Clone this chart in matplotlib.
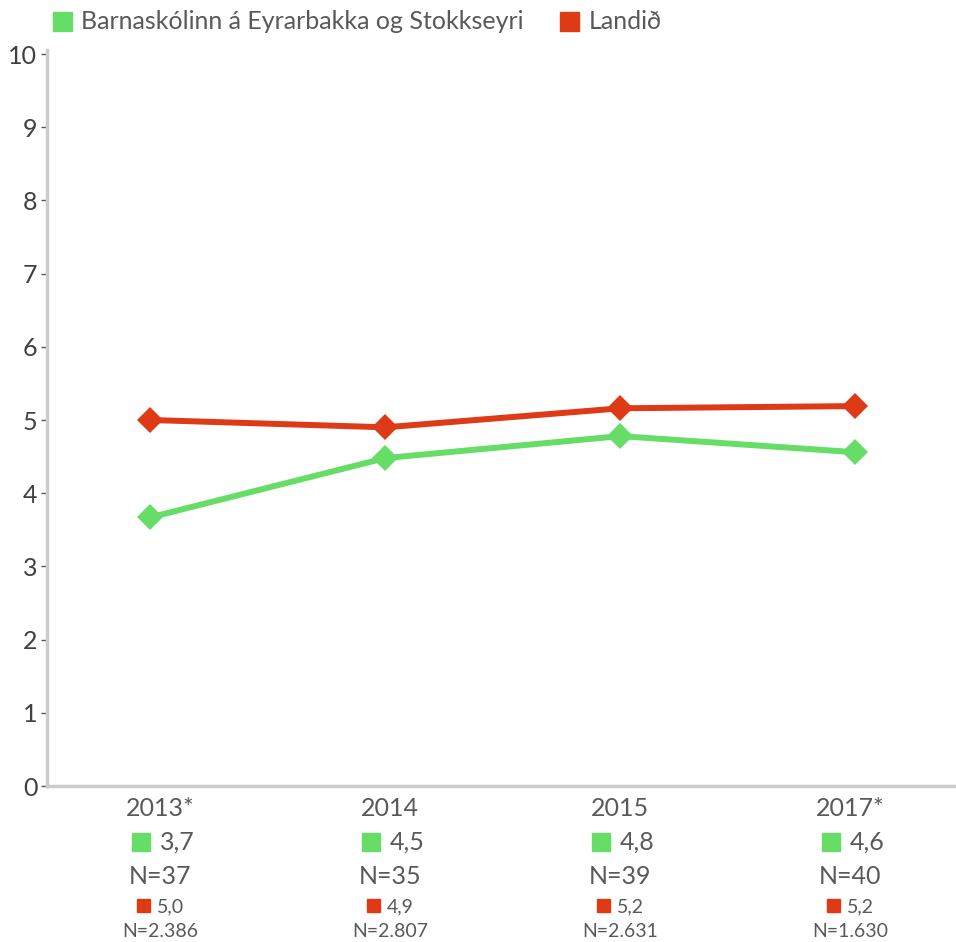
import matplotlib
matplotlib.use("Agg")
import matplotlib.pyplot as plt

years = ["2013*", "2014", "2015", "2017*"]
school = [3.67, 4.48, 4.78, 4.56]
national = [5.0, 4.9, 5.16, 5.19]
school_lbl = ["3,7", "4,5", "4,8", "4,6"]
school_n = ["N=37", "N=35", "N=39", "N=40"]
national_lbl = ["5,0", "4,9", "5,2", "5,2"]
national_n = ["N=2.386", "N=2.807", "N=2.631", "N=1.630"]
series_names = ["Barnaskólinn á Eyrarbakka og Stokkseyri", "Landið"]

GREEN = "#66dd66"
RED = "#dd3a15"
TXT = "#595959"
plt.rcParams['font.family'] = ['Lato', 'DejaVu Sans']

W, H = 956, 942
fig = plt.figure(figsize=(W / 100, H / 100), dpi=100)
ax = fig.add_axes([47 / W, 1 - 786 / H, (954 - 47) / W, (786 - 54) / H])

x = list(range(len(years)))
ax.plot(x, school, color=GREEN, lw=4.3, marker="D", ms=13, mew=0, zorder=3)
ax.plot(x, national, color=RED, lw=4.3, marker="D", ms=13, mew=0, zorder=3)

ax.set_xlim(-0.44, 3.42)
ax.set_ylim(0, 10)
ax.set_yticks(range(0, 11))
ax.set_yticklabels([str(i) for i in range(0, 11)], fontsize=18, color="#404040")
ax.tick_params(axis="y", length=4, width=1, color="#555555", pad=3, direction="out")
ax.set_xticks([])
for s in ["top", "right"]:
    ax.spines[s].set_visible(False)
ax.spines["left"].set_color("#cccccc")
ax.spines["left"].set_linewidth(2.5)
ax.spines["bottom"].set_color("#cccccc")
ax.spines["bottom"].set_linewidth(2.5)
ax.spines["left"].set_bounds(0, 10.05)


def ypix(py):
    return 1 - py / H


def square(px, py, size, color):
    fig.patches.append(plt.Rectangle((px / W, ypix(py + size)), size / W, size / H,
                                     transform=fig.transFigure, color=color, figure=fig))


def label(px, py, s, size, ha="center"):
    fig.text(px / W, ypix(py), s, ha=ha, va="baseline", fontsize=size, color=TXT)


# category text blocks below the axis
for i in range(len(years)):
    c = 160 + 230 * i
    label(c, 816, years[i], 18)
    square(c - 28, 833, 18, GREEN)
    label(c, 850, school_lbl[i], 18, ha="left")
    label(c, 884, school_n[i], 18)
    square(c - 23, 899, 13, RED)
    label(c - 3, 912, national_lbl[i], 14, ha="left")
    label(c, 937, national_n[i], 14)

# legend
square(53, 12, 19, GREEN)
label(81, 29, series_names[0], 18, ha="left")
square(560, 12, 19, RED)
label(589, 29, series_names[1], 18, ha="left")

fig.savefig("out.png", dpi=100)
